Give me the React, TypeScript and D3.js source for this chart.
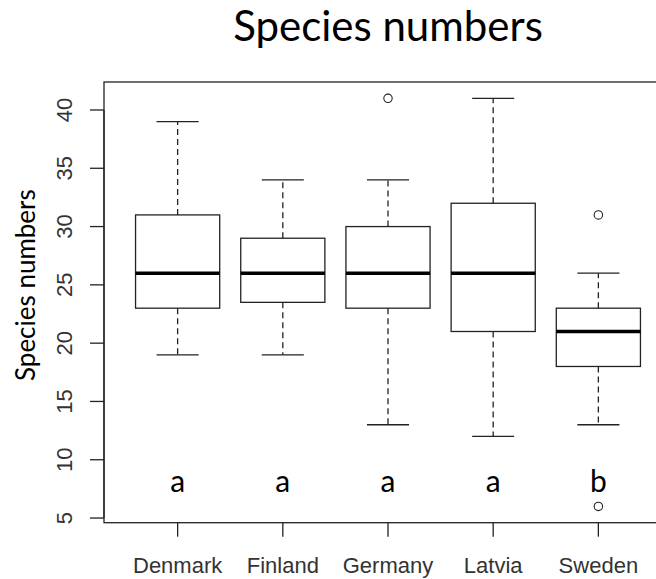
import React from "react";
import * as d3 from "d3";

const categories = ["Denmark", "Finland", "Germany", "Latvia", "Sweden"];
const whiskerLow = [19, 19, 13, 12, 13];
const q1 = [23, 23.5, 23, 21, 18];
const medians = [26, 26, 26, 26, 21];
const q3 = [31, 29, 30, 32, 23];
const whiskerHigh = [39, 34, 34, 41, 26];
const outliers: number[][] = [[], [], [41], [], [31, 6]];
const letters = ["a", "a", "a", "a", "b"];
const letterY = 8;
const yTicks = [5, 10, 15, 20, 25, 30, 35, 40];

const W = 656;
const H = 579;
const left = 104;
const right = 672;
const top = 82;
const bottom = 522.7;

export default function App() {
  const x = d3.scaleLinear().domain([0.3, 5.7]).range([left, right]);
  const y = d3.scaleLinear().domain([4.6, 42.4]).range([bottom, top]);
  const step = x(2) - x(1);
  const boxW = step * 0.8;
  const capW = boxW * 0.5;
  const lw = 1.3;
  const stroke = "#222";
  const axisFont = "'Liberation Sans', Arial, sans-serif";
  const calFont = "Lato, 'Open Sans', sans-serif";

  return (
    <div style={{ position: "absolute", left: 0, top: 0 }}>
      <svg width={W} height={H} style={{ display: "block", background: "#fff" }}>
        {/* Title */}
        <text x={(left + right) / 2} y={40.5} textAnchor="middle" fontFamily={calFont} fontSize={42} fill="#000">
          Species numbers
        </text>
        {/* Y label */}
        <text
          transform={`translate(35,381) rotate(-90)`}
          textAnchor="start"
          fontFamily={calFont}
          fontSize={26}
          fill="#000"
        >
          Species numbers
        </text>

        {/* boxes */}
        {categories.map((c, i) => {
          const cx = x(i + 1);
          return (
            <g key={c}>
              <line x1={cx} x2={cx} y1={y(q3[i])} y2={y(whiskerHigh[i])} stroke={stroke} strokeWidth={lw} strokeDasharray="6,4" />
              <line x1={cx} x2={cx} y1={y(q1[i])} y2={y(whiskerLow[i])} stroke={stroke} strokeWidth={lw} strokeDasharray="6,4" />
              <line x1={cx - capW / 2} x2={cx + capW / 2} y1={y(whiskerHigh[i])} y2={y(whiskerHigh[i])} stroke={stroke} strokeWidth={lw} />
              <line x1={cx - capW / 2} x2={cx + capW / 2} y1={y(whiskerLow[i])} y2={y(whiskerLow[i])} stroke={stroke} strokeWidth={lw} />
              <rect x={cx - boxW / 2} y={y(q3[i])} width={boxW} height={y(q1[i]) - y(q3[i])} fill="none" stroke={stroke} strokeWidth={lw} />
              <line x1={cx - boxW / 2} x2={cx + boxW / 2} y1={y(medians[i])} y2={y(medians[i])} stroke="#000" strokeWidth={3.6} />
              {outliers[i].map((o, j) => (
                <circle key={j} cx={cx} cy={y(o)} r={4.2} fill="none" stroke={stroke} strokeWidth={1.1} />
              ))}
              <text x={cx} y={y(letterY) + 9} textAnchor="middle" fontFamily={calFont} fontSize={30} fill="#000">
                {letters[i]}
              </text>
            </g>
          );
        })}

        {/* frame */}
        <rect x={left} y={top} width={right - left} height={bottom - top} fill="none" stroke={stroke} strokeWidth={lw} />

        {/* y axis ticks */}
        {yTicks.map((t) => (
          <g key={t}>
            <line x1={left} x2={left - 14} y1={y(t)} y2={y(t)} stroke={stroke} strokeWidth={lw} />
            <text
              transform={`translate(72,${y(t)}) rotate(-90)`}
              textAnchor="middle"
              fontFamily={axisFont}
              fontSize={22}
              fill="#333"
            >
              {t}
            </text>
          </g>
        ))}
        <line x1={left} x2={left} y1={y(yTicks[0])} y2={y(yTicks[yTicks.length - 1])} stroke={stroke} strokeWidth={lw} />

        {/* x axis ticks */}
        {categories.map((c, i) => (
          <g key={c}>
            <line x1={x(i + 1)} x2={x(i + 1)} y1={bottom} y2={bottom + 14} stroke={stroke} strokeWidth={lw} />
            <text x={x(i + 1)} y={573} textAnchor="middle" fontFamily={axisFont} fontSize={22} fill="#333">
              {c}
            </text>
          </g>
        ))}
      </svg>
    </div>
  );
}
